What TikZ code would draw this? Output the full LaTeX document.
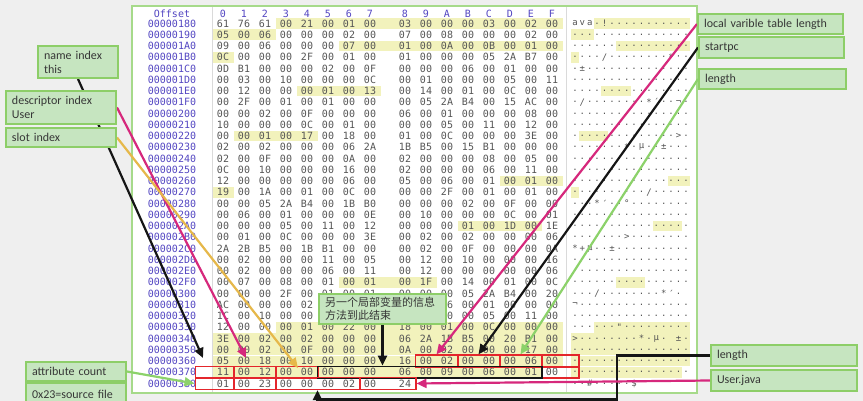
\documentclass[tikz,border=0pt]{standalone}
\usepackage{fontspec}
\setmainfont{Carlito}
\newfontfamily\hexfont{DejaVu Sans Mono}
\newfontfamily\cjkfont{Noto Sans CJK SC}
\usetikzlibrary{arrows.meta,fit,positioning}

\definecolor{screen}{HTML}{EFEFEF}
\definecolor{paneledge}{HTML}{A6DA8A}
\definecolor{gridline}{HTML}{DADADA}
\definecolor{offblue}{HTML}{5346C2}
\definecolor{hexgray}{HTML}{555555}
\definecolor{hlyellow}{HTML}{F2F2BC}
\definecolor{tagfill}{HTML}{C6E5C0}
\definecolor{tagedge}{HTML}{8DCE68}
\definecolor{tagtext}{HTML}{363636}
\definecolor{boxred}{HTML}{E4262C}
\definecolor{wirepink}{HTML}{D6287C}
\definecolor{wiregold}{HTML}{E6B84A}
\definecolor{wiregreen}{HTML}{8CD26A}
\definecolor{wireblack}{HTML}{151515}

\newcommand\asciiof[1]{\ifnum"#1<"20 .\else\ifnum"#1<"7F \char"#1\relax\else\ifnum"#1<"A0 .\else\char"#1\relax\fi\fi\fi}

\pgfdeclarelayer{panel}
\pgfdeclarelayer{wires}
\pgfsetlayers{panel,wires,main}

\begin{document}
\begin{tikzpicture}[x=1pt,y=-1pt,
            cell/.style={font=\hexfont\fontsize{10}{10}\selectfont, text=hexgray,
                minimum width=21pt, minimum height=11.25pt, inner sep=0pt},
            glyph/.style={font=\hexfont\fontsize{9}{9}\selectfont, text=hexgray,
                minimum width=7.4pt, minimum height=11.25pt, inner sep=0pt},
            offs/.style={font=\hexfont\fontsize{10}{10}\selectfont, text=offblue, inner sep=0pt},
            tag/.style={draw=tagedge, fill=tagfill, line width=2pt, text=tagtext,
                font=\fontsize{12}{14}\selectfont, anchor=north west, align=left,
                inner xsep=6pt, inner ysep=0pt},
            redbox/.style={draw=boxred, line width=1.6pt, inner sep=0pt},
            wire/.style={line width=2.2pt, -{Triangle[length=10pt,width=9pt]}}
        ]
        \useasboundingbox (0,0) rectangle (863,401);
        \begin{pgfonlayer}{panel}
        \fill[screen] (0,0) rectangle (863,401);
        \draw[paneledge, line width=2pt, fill=white] (132,6) rectangle (697,393);
        \draw[gridline] (212,7) -- (212,392);
        \draw[gridline] (566,7) -- (566,392);
        \foreach \ri/\ca/\cb in {0/3/15, 1/0/2, 2/6/15, 3/0/0, 6/4/7, 10/1/4, 14/13/15,
            15/0/0, 18/11/14, 23/6/9, 27/3/15, 28/0/15, 29/0/15, 30/0/15, 31/0/14} {
            \fill[hlyellow] ({223+21*\ca+14*(\ca>7)-10.5},{23.5+11.25*\ri-5.4})
                rectangle ({223+21*\cb+14*(\cb>7)+10.5},{23.5+11.25*\ri+5.4});
            \fill[hlyellow] ({575+7.4*\ca-3.7},{23.5+11.25*\ri-5.4})
                rectangle ({575+7.4*\cb+3.7},{23.5+11.25*\ri+5.4});
        }
        \node[offs] (offhd) at (172,13.5) {Offset};
        \foreach \h [count=\ci from 0] in {0,1,2,3,4,5,6,7,8,9,A,B,C,D,E,F}
            \node[offs] (hd-\ci) at ({223+21*\ci+14*(\ci>7)},13.5) {\h};
        \foreach \off/\bytes [count=\ri from 0] in {
            00000180/{61,76,61,00,21,00,01,00,03,00,00,00,03,00,02,00},
            00000190/{05,00,06,00,00,00,02,00,07,00,08,00,00,00,02,00},
            000001A0/{09,00,06,00,00,00,07,00,01,00,0A,00,0B,00,01,00},
            000001B0/{0C,00,00,00,2F,00,01,00,01,00,00,00,05,2A,B7,00},
            000001C0/{0D,B1,00,00,00,02,00,0F,00,00,00,06,00,01,00,00},
            000001D0/{00,03,00,10,00,00,00,0C,00,01,00,00,00,05,00,11},
            000001E0/{00,12,00,00,00,01,00,13,00,14,00,01,00,0C,00,00},
            000001F0/{00,2F,00,01,00,01,00,00,00,05,2A,B4,00,15,AC,00},
            00000200/{00,00,02,00,0F,00,00,00,06,00,01,00,00,00,08,00},
            00000210/{10,00,00,00,0C,00,01,00,00,00,05,00,11,00,12,00},
            00000220/{00,00,01,00,17,00,18,00,01,00,0C,00,00,00,3E,00},
            00000230/{02,00,02,00,00,00,06,2A,1B,B5,00,15,B1,00,00,00},
            00000240/{02,00,0F,00,00,00,0A,00,02,00,00,00,08,00,05,00},
            00000250/{0C,00,10,00,00,00,16,00,02,00,00,00,06,00,11,00},
            00000260/{12,00,00,00,00,00,06,00,05,00,06,00,01,00,01,00},
            00000270/{19,00,1A,00,01,00,0C,00,00,00,2F,00,01,00,01,00},
            00000280/{00,00,05,2A,B4,00,1B,B0,00,00,00,02,00,0F,00,00},
            00000290/{00,06,00,01,00,00,00,0E,00,10,00,00,00,0C,00,01},
            000002A0/{00,00,00,05,00,11,00,12,00,00,00,01,00,1D,00,1E},
            000002B0/{00,01,00,0C,00,00,00,3E,00,02,00,02,00,00,00,06},
            000002C0/{2A,2B,B5,00,1B,B1,00,00,00,02,00,0F,00,00,00,0A},
            000002D0/{00,02,00,00,00,11,00,05,00,12,00,10,00,00,00,16},
            000002E0/{00,02,00,00,00,06,00,11,00,12,00,00,00,00,00,06},
            000002F0/{00,07,00,08,00,01,00,01,00,1F,00,14,00,01,00,0C},
            00000300/{00,00,00,2F,00,01,00,01,00,00,00,05,2A,B4,00,20},
            00000310/{AC,00,00,00,02,00,0F,00,00,00,06,00,01,00,00,00},
            00000320/{1C,00,10,00,00,00,0C,00,01,00,00,00,05,00,11,00},
            00000330/{12,00,00,00,01,00,22,00,18,00,01,00,0C,00,00,00},
            00000340/{3E,00,02,00,02,00,00,00,06,2A,1B,B5,00,20,B1,00},
            00000350/{00,00,02,00,0F,00,00,00,0A,00,02,00,00,00,17,00},
            00000360/{05,00,18,00,10,00,00,00,16,00,02,00,00,00,06,00},
            00000370/{11,00,12,00,00,00,00,00,06,00,09,00,06,00,01,00},
            00000380/{01,00,23,00,00,00,02,00,24}} {
            \node[offs] (o-\ri) at (172,{23.5+11.25*\ri}) {\off};
            \foreach \hx [count=\ci from 0] in \bytes {
                \node[cell] (h-\ri-\ci) at ({223+21*\ci+14*(\ci>7)},{23.5+11.25*\ri}) {\hx};
                \node[glyph] (a-\ri-\ci) at ({575+7.4*\ci},{23.5+11.25*\ri}) {\asciiof{\hx}};
            }
        }
        \node[redbox, fit=(h-30-9)(h-30-10)] (lvtbox) {};
        \node[redbox, fit=(h-30-11)(h-30-12)] (pcbox) {};
        \node[redbox, fit=(h-30-13)(h-30-14)] (lenbox) {};
        \node[redbox, fit=(h-30-15)(a-30-0)] (namehi) {};
        \node[redbox, fit={([xshift=-17pt]h-31-0.north west) (h-31-0.south east)}] (namelo) {};
        \node[redbox, fit=(h-31-1)(h-31-2)] (descbox) {};
        \node[redbox, fit=(h-31-3)(h-31-4)] (slotbox) {};
        \node[redbox, fit=(h-31-15)(a-31-0)] (cnthi) {};
        \node[draw=wireblack, line width=1.6pt, inner sep=0pt, fit=(h-31-5)(h-31-14)] (lastvar) {};
        \node[redbox, fit={([xshift=-17pt]h-32-0.north west) (h-32-0.south east)}] (cntbox) {};
        \node[redbox, fit=(h-32-1)(h-32-2)] (srcidx) {};
        \node[redbox, fit=(h-32-3)(h-32-6)] (alenbox) {};
        \node[redbox, fit=(h-32-7)(h-32-8)] (srcbox) {};
        \end{pgfonlayer}

        \node[tag, text width=68pt, minimum height=32pt] (nameidx) at (37,45) {name index\\this};
        \node[tag, text width=98pt, minimum height=33pt] (descidx) at (5,90) {descriptor index\\User};
        \node[tag, text width=98pt, minimum height=19pt] (slotidx) at (5,127) {slot index};
        \node[tag, text width=133pt, minimum height=20pt] (lvtlen) at (697,13) {local varible table length};
        \node[tag, text width=133pt, minimum height=21pt] (startpc) at (698,36) {startpc};
        \node[tag, text width=135pt, minimum height=20pt] (lvlen) at (698,68) {length};
        \node[tag, font=\cjkfont\fontsize{11}{13}\selectfont, text width=115pt,
            minimum height=30pt] (note) at (318,293) {另一个局部变量的信息\\方法到此结束};
        \node[tag, text width=134pt, minimum height=21pt] (attrlen) at (710,344) {length};
        \node[tag, text width=134pt, minimum height=21pt] (srcname) at (710,369) {User.java};
        \node[tag, text width=88pt, minimum height=19pt] (attrcnt) at (25,361) {attribute count};
        \node[tag, text width=88pt, minimum height=22pt] (srcfile) at (25,382) {0x23=source file};

        \begin{pgfonlayer}{wires}
        \coordinate (nametip) at (203,358);
        \coordinate (desctip) at (246,358);
        \coordinate (slottip) at (298,368);
        \coordinate (lenturn) at (617,399.5);
        \draw[wire, draw=wireblack] (nameidx.south) -- (nametip);
        \draw[wire, draw=wirepink] (descidx.east) -- (desctip);
        \draw[wire, draw=wiregold] (slotidx.east) -- (slottip);
        \draw[wire, draw=wirepink] (lvtlen.west) -- (lvtbox.north);
        \draw[wire, draw=wireblack] (startpc.west) -- (pcbox.north);
        \draw[wire, draw=wiregreen] (lvlen.west) -- (lenbox.north);
        \draw[wire, draw=wireblack] (note.south) -- (note.south |- lastvar.north);
        \draw[wire, draw=wireblack] (attrlen.west) -| (lenturn) -| (alenbox.south);
        \draw[wire, draw=wirepink] (srcname.west) -- (srcbox.east);
        \draw[wire, draw=wiregreen] (attrcnt.east) -- (cntbox.west);
        \end{pgfonlayer}
    \end{tikzpicture}
\end{document}
